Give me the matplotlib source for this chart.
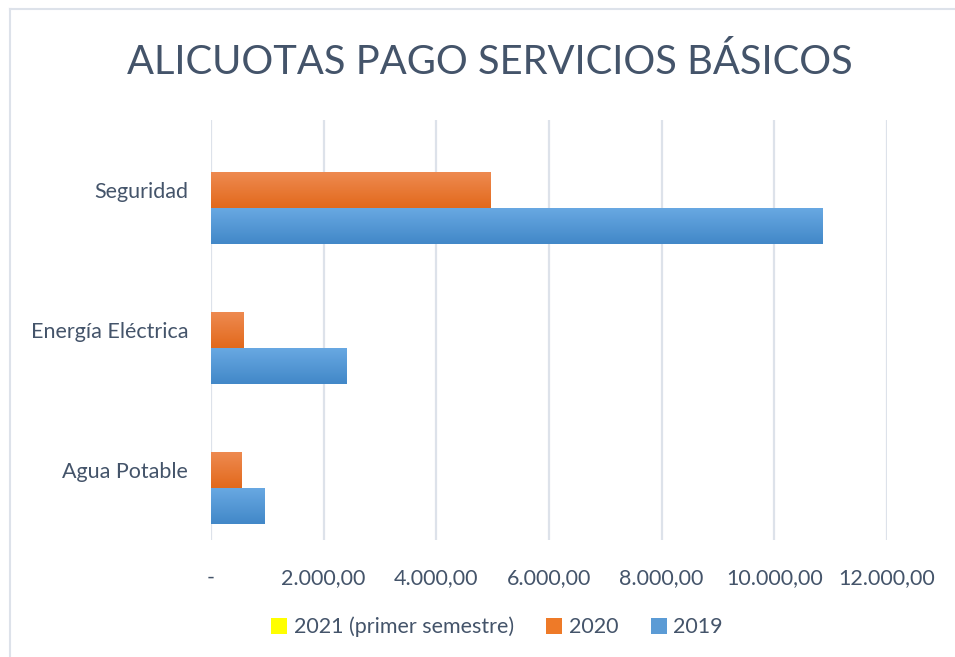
import numpy as np
import matplotlib
matplotlib.use('Agg')
from matplotlib import pyplot as plt
from matplotlib.lines import Line2D
from matplotlib.colors import LinearSegmentedColormap

plt.rcParams['font.family'] = ['Lato', 'DejaVu Sans']

# datos
categorias = ['Agua Potable', 'Energía Eléctrica', 'Seguridad']
v2021 = [0, 0, 0]
v2020 = [550, 580, 4960]
v2019 = [958, 2408, 10855]
series = ['2021 (primer semestre)', '2020', '2019']
colores = ['#FFFF00', '#EE7A28', '#5B9BD5']
# degradado (arriba -> abajo) de cada serie
degradados = [('#FFFF00', '#FFFF00'), ('#EE8A50', '#E2691C'), ('#68A8E2', '#4288C8')]
ticks_x = [0, 2000, 4000, 6000, 8000, 10000, 12000]
etiquetas_x = ['-', '2.000,00', '4.000,00', '6.000,00', '8.000,00', '10.000,00', '12.000,00']

texto = '#44546A'
rejilla = '#DDE2EA'

fig = plt.figure(figsize=(9.55, 6.57), dpi=100)
ax = fig.add_axes([211 / 955, 1 - 540 / 657, 676 / 955, 420 / 657])

y = np.arange(len(categorias))
h = 0.257
barras = [
    ax.barh(y + h, v2021, height=h, color=colores[0], label=series[0]),
    ax.barh(y, v2020, height=h, color=colores[1], label=series[1]),
    ax.barh(y - h, v2019, height=h, color=colores[2], label=series[2]),
]

# relleno en degradado vertical como en Excel
grad = np.linspace(0, 1, 64).reshape(-1, 1)
for cont, (c_top, c_bot) in zip(barras, degradados):
    cmap = LinearSegmentedColormap.from_list('g', [c_top, c_bot])
    for p in cont.patches:
        if p.get_width() <= 0:
            continue
        x0, y0 = p.get_x(), p.get_y()
        x1, y1 = x0 + p.get_width(), y0 + p.get_height()
        ax.imshow(grad, cmap=cmap, aspect='auto', extent=(x0, x1, y0, y1),
                  origin='upper', zorder=2.5)

ax.set_xlim(0, 12000)
ax.set_ylim(-0.5, 2.5)
ax.set_xticks(ticks_x)
ax.set_xticklabels(etiquetas_x)
ax.set_yticks(y)
ax.set_yticklabels(categorias)
ax.tick_params(length=0, labelsize=15.5, colors=texto)
ax.tick_params(axis='x', pad=20)
ax.tick_params(axis='y', pad=16.5)
ax.grid(axis='x', color=rejilla, linewidth=1.6)
ax.set_axisbelow(True)
for s in ax.spines.values():
    s.set_visible(False)

fig.text(490 / 955, 1 - 62 / 657, 'ALICUOTAS PAGO SERVICIOS BÁSICOS',
         ha='center', va='center', fontsize=28.7, color=texto)

# marco del gráfico (solo se ven los bordes izquierdo y superior)
fig.add_artist(Line2D([10 / 955, 10 / 955], [0, 1 - 9 / 657], color=rejilla, lw=1.5))
fig.add_artist(Line2D([10 / 955, 1], [1 - 9 / 657, 1 - 9 / 657], color=rejilla, lw=1.5))

handles, labels = ax.get_legend_handles_labels()
fig.legend(handles, labels, loc='center', bbox_to_anchor=(497 / 955, 1 - 627 / 657),
           ncol=3, frameon=False, fontsize=15.5, labelcolor=texto,
           handlelength=0.75, handleheight=0.75, handletextpad=0.3, columnspacing=1.5)

fig.savefig('out.png', dpi=100)
